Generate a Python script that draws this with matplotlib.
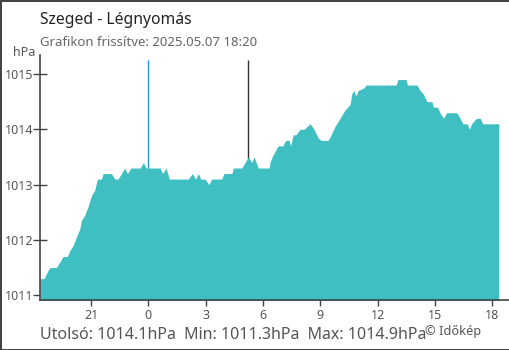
import numpy as np
import matplotlib
matplotlib.use('Agg')
import matplotlib.pyplot as plt

plt.rcParams['font.family'] = ['Noto Sans', 'DejaVu Sans']

# hours relative to midnight (negative = previous evening), pressure in hPa
hours = [-5.67, -5.46, -5.25, -5.15, -4.82, -4.73, -4.55, -4.47, -4.24, -4.12,
         -3.94, -3.77, -3.59, -3.51, -3.33, -3.16, -2.98, -2.81, -2.67, -2.46,
         -2.37, -1.94, -1.76, -1.59, -1.32, -1.24, -1.10, -0.92, -0.43, -0.26,
         -0.12, 0.61, 0.75, 0.93, 1.10, 2.09, 2.30, 2.48, 2.62, 2.74,
         2.97, 3.16, 3.32, 3.84, 3.96, 4.37, 4.45, 4.89, 5.06, 5.24,
         5.41, 5.53, 5.76, 6.32, 6.37, 6.48, 6.63, 6.79, 7.05, 7.10,
         7.21, 7.37, 7.45, 7.58, 7.73, 7.94, 8.15, 8.31, 8.47, 8.68,
         8.88, 9.04, 9.41, 9.57, 9.77, 10.04, 10.30, 10.56, 10.66, 10.77,
         10.87, 10.98, 11.29, 11.40, 12.97, 13.07, 13.49, 13.57, 14.07, 14.23,
         14.38, 14.59, 14.85, 14.93, 15.14, 15.27, 15.45, 15.62, 16.15, 16.32,
         16.48, 16.69, 16.81, 16.93, 17.05, 17.19, 17.37, 17.51, 18.35]
pressure = [1011.3, 1011.3, 1011.45, 1011.5, 1011.5, 1011.55, 1011.65, 1011.7, 1011.7, 1011.8,
            1011.9, 1012.05, 1012.2, 1012.35, 1012.45, 1012.6, 1012.8, 1012.9, 1013.1, 1013.1,
            1013.2, 1013.2, 1013.1, 1013.1, 1013.25, 1013.3, 1013.2, 1013.3, 1013.3, 1013.4,
            1013.3, 1013.3, 1013.2, 1013.3, 1013.1, 1013.1, 1013.2, 1013.1, 1013.2, 1013.1,
            1013.1, 1013.0, 1013.1, 1013.1, 1013.2, 1013.2, 1013.3, 1013.3, 1013.4, 1013.5,
            1013.4, 1013.5, 1013.3, 1013.3, 1013.4, 1013.5, 1013.6, 1013.7, 1013.7, 1013.75,
            1013.8, 1013.8, 1013.7, 1013.9, 1013.9, 1014.0, 1014.0, 1014.05, 1014.1, 1014.0,
            1013.85, 1013.8, 1013.8, 1013.9, 1014.05, 1014.2, 1014.35, 1014.45, 1014.65, 1014.7,
            1014.6, 1014.7, 1014.75, 1014.8, 1014.8, 1014.9, 1014.9, 1014.8, 1014.8, 1014.7,
            1014.65, 1014.5, 1014.5, 1014.4, 1014.4, 1014.3, 1014.2, 1014.3, 1014.3, 1014.2,
            1014.1, 1014.1, 1014.0, 1014.1, 1014.15, 1014.2, 1014.2, 1014.1, 1014.1]

xticks = [-3, 0, 3, 6, 9, 12, 15, 18]
xticklabels = ['21', '0', '3', '6', '9', '12', '15', '18']
yticks = [1011, 1012, 1013, 1014, 1015]
midnight = 0
sunrise = 5.24

fig = plt.figure(figsize=(5.1, 3.5), dpi=100)
fig.patch.set_edgecolor('#444444')
fig.patch.set_linewidth(2)
ax = fig.add_axes([40/510, 50/350, 469/510, 245/350])

ax.fill_between(hours, 1010, pressure, color='#40bfc2', linewidth=0, zorder=2)
ax.vlines(midnight, 1010, 1015.25, color='#2b95d9', linewidth=1, zorder=1)
ax.vlines(sunrise, 1010, 1015.25, color='#333333', linewidth=1, zorder=1)

ax.set_xlim(-5.675, 18.885)
ax.set_ylim(1010.913, 1015.344)
ax.set_axisbelow(True)

for s in ['top', 'right']:
    ax.spines[s].set_visible(False)
for s in ['left', 'bottom']:
    ax.spines[s].set_color('#444444')
    ax.spines[s].set_linewidth(1.2)
    ax.spines[s].set_zorder(3)

ax.set_xticks(xticks)
ax.set_xticklabels(xticklabels)
ax.set_yticks(yticks)
ax.tick_params(axis='x', direction='out', length=4.5, width=1, color='#444444',
               labelcolor='#555555', labelsize=9, pad=2)
ax.tick_params(axis='y', direction='inout', length=10, width=1, color='#444444',
               labelcolor='#555555', labelsize=9, pad=0)
ax.get_xticklines()[2].set_color('#2b95d9')

fig.text(40/510, 1-24/350, 'Szeged - Légnyomás', fontsize=11.3, color='#222222', va='baseline')
fig.text(40/510, 1-45.5/350, 'Grafikon frissítve: 2025.05.07 18:20', fontsize=9.5, color='#666666', va='baseline')
fig.text(35/510, 1-55.5/350, 'hPa', fontsize=9, color='#555555', ha='right', va='baseline')
fig.text(40/510, 1-339/350, 'Utolsó: 1014.1hPa  Min: 1011.3hPa  Max: 1014.9hPa',
         fontsize=11.5, color='#555555', va='baseline')
fig.text(425/510, 1-335/350, '© Időkép', fontsize=9.2, color='#555555', va='baseline')

fig.savefig('out.png', dpi=100)
